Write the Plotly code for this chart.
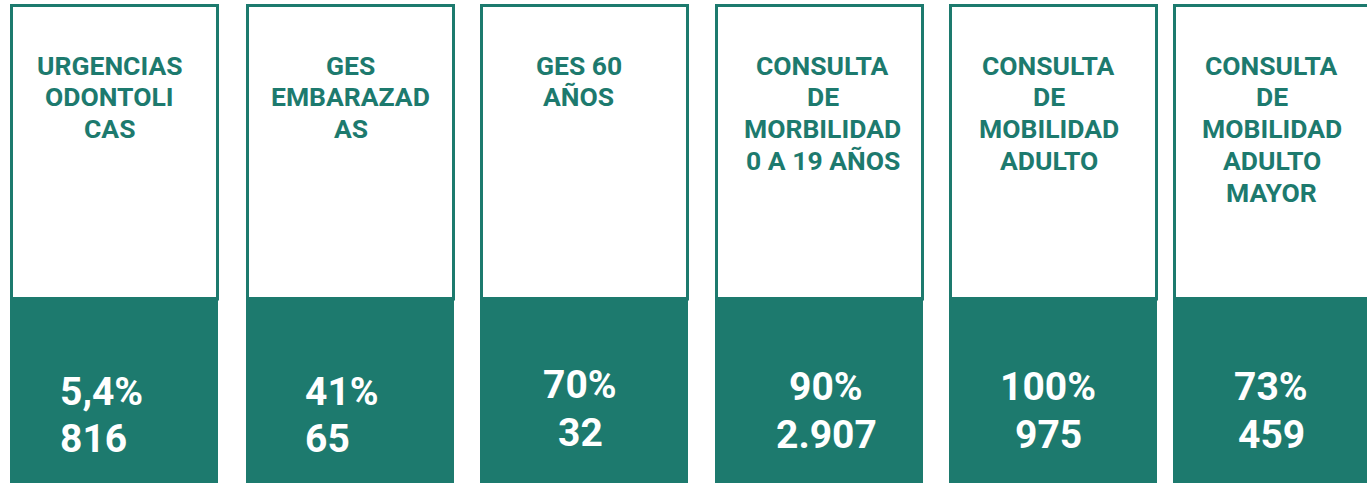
import plotly.graph_objects as go

# card data
titles = [
    ["URGENCIAS", "ODONTOLI", "CAS"],
    ["GES", "EMBARAZAD", "AS"],
    ["GES 60", "AÑOS"],
    ["CONSULTA", "DE", "MORBILIDAD", "0 A 19 AÑOS"],
    ["CONSULTA", "DE", "MOBILIDAD", "ADULTO"],
    ["CONSULTA", "DE", "MOBILIDAD", "ADULTO", "MAYOR"],
]
percentages = ["5,4%", "41%", "70%", "90%", "100%", "73%"]
counts = ["816", "65", "32", "2.907", "975", "459"]

TEAL = "#1d7a6e"
W, H = 1367, 483

# layout of the cards (pixels)
card_left = [10, 246, 480, 715, 949, 1173]
card_w = 209
split_y = 297
title_shift = [-5, 0, -6, 3, -5, -6]
value_align = ["left", "left", "center", "center", "center", "center"]
value_x = [58, 303, 580, 826, 1048, 1271]
value_y = [(392, 439), (392, 439), (385, 433), (387, 435), (387, 435), (387, 435)]

fig = go.Figure()
fig.add_trace(go.Scatter(x=[0, W], y=[0, H], mode="markers",
                         marker=dict(opacity=0), hoverinfo="skip", showlegend=False))

shapes = []
annotations = []
for i, left in enumerate(card_left):
    right = left + card_w
    # white box with teal border
    shapes.append(dict(type="rect", xref="x", yref="y",
                       x0=left + 1.5, x1=right - 1.5, y0=5.5, y1=split_y + 2,
                       line=dict(color=TEAL, width=3), fillcolor="white", layer="below"))
    # teal panel
    shapes.append(dict(type="rect", xref="x", yref="y",
                       x0=left, x1=right - 1, y0=split_y, y1=H + 5,
                       line=dict(width=0), fillcolor=TEAL, layer="below"))

    cx = (left + right) / 2 + title_shift[i]
    for j, line in enumerate(titles[i]):
        annotations.append(dict(x=cx, y=65 + j * 31.8, xref="x", yref="y",
                                text=line, showarrow=False, xanchor="center", yanchor="middle",
                                font=dict(family="Roboto", size=26.5, color=TEAL, weight="bold")))

    xa = "left" if value_align[i] == "left" else "center"
    for val, vy in zip([percentages[i], counts[i]], value_y[i]):
        annotations.append(dict(x=value_x[i], y=vy, xref="x", yref="y",
                                text=val, showarrow=False, xanchor=xa, yanchor="middle",
                                font=dict(family="Roboto", size=39, color="white", weight="bold")))

fig.update_layout(
    width=W, height=H,
    margin=dict(l=0, r=0, t=0, b=0),
    paper_bgcolor="white", plot_bgcolor="white",
    xaxis=dict(range=[0, W], visible=False, fixedrange=True),
    yaxis=dict(range=[H, 0], visible=False, fixedrange=True),
    shapes=shapes,
    annotations=annotations,
)

# drop the default page margin so the figure sits at the window origin
fig.write_html("out.html", config={"displayModeBar": False},
               post_script="document.body.style.margin='0';")
